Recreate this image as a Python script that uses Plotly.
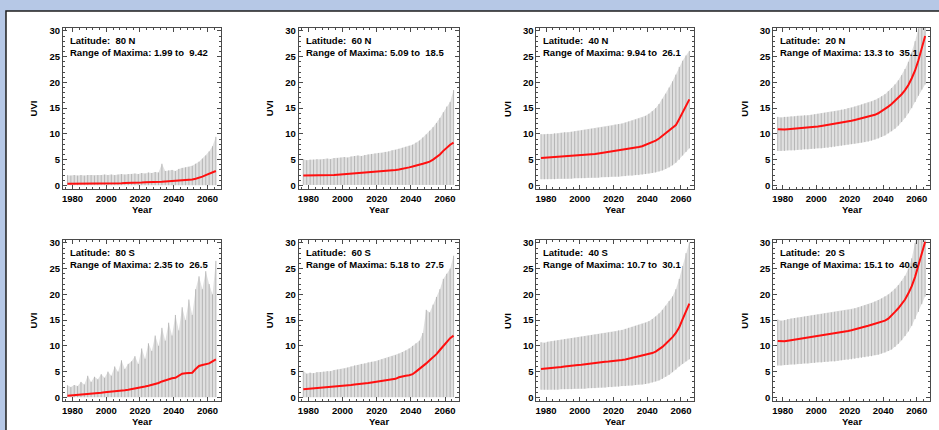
import plotly.graph_objects as go

# ---------------- data ----------------
YEARS = [1977, 1979, 1981, 1983, 1985, 1987, 1989, 1991, 1993, 1995,
         1997, 1999, 2001, 2003, 2005, 2007, 2009, 2011, 2013, 2015,
         2017, 2019, 2021, 2023, 2025, 2027, 2029, 2031, 2033, 2035,
         2037, 2039, 2041, 2043, 2045, 2047, 2049, 2051, 2053, 2055,
         2057, 2059, 2061, 2063, 2065]

LATITUDES = ["80 N", "60 N", "40 N", "20 N", "80 S", "60 S", "40 S", "20 S"]
MAX_RANGE_LO = ["1.99", "5.09", "9.94", "13.3", "2.35", "5.18", "10.7", "15.1"]
MAX_RANGE_HI = ["9.42", "18.5", "26.1", "35.1", "26.5", "27.5", "30.1", "40.6"]

# 80 N
MAX_80N = [1.99, 1.9, 2.0, 1.9, 2.0, 1.9, 2.0, 2.0, 1.9, 2.0,
           2.0, 2.1, 2.0, 2.1, 2.0, 2.1, 2.2, 2.1, 2.2, 2.2,
           2.3, 2.2, 2.4, 2.3, 2.5, 2.4, 2.6, 2.5, 4.2, 2.8,
           2.9, 3.0, 2.8, 3.2, 3.4, 3.5, 3.6, 3.8, 4.2, 4.6,
           5.2, 5.8, 6.6, 7.6, 9.42]
MIN_80N = [0.05, 0.05, 0.05, 0.05, 0.05, 0.05, 0.05, 0.05, 0.05, 0.05,
           0.05, 0.05, 0.05, 0.05, 0.05, 0.05, 0.05, 0.05, 0.05, 0.05,
           0.05, 0.05, 0.05, 0.05, 0.05, 0.05, 0.05, 0.05, 0.05, 0.05,
           0.05, 0.05, 0.05, 0.05, 0.05, 0.05, 0.05, 0.05, 0.05, 0.05,
           0.05, 0.05, 0.05, 0.05, 0.05]
MEAN_80N = [0.3, 0.3, 0.3, 0.3, 0.3, 0.3, 0.3, 0.35, 0.35, 0.35,
            0.35, 0.35, 0.4, 0.4, 0.4, 0.4, 0.4, 0.45, 0.45, 0.5,
            0.5, 0.55, 0.55, 0.6, 0.6, 0.65, 0.65, 0.7, 0.7, 0.75,
            0.8, 0.85, 0.85, 0.9, 0.95, 1.0, 1.05, 1.15, 1.3, 1.45,
            1.7, 2.0, 2.3, 2.6, 2.8]

# 60 N
MAX_60N = [5.09, 4.9, 5.0, 5.0, 5.1, 5.0, 5.1, 5.2, 5.1, 5.3,
           5.3, 5.4, 5.5, 5.4, 5.6, 5.7, 5.8, 5.7, 5.9, 6.0,
           6.1, 6.2, 6.3, 6.3, 6.5, 6.6, 6.8, 6.9, 7.1, 7.3,
           7.5, 7.7, 7.9, 8.3, 8.7, 9.3, 9.9, 10.6, 11.3, 12.1,
           13.1, 14.2, 15.3, 16.2, 18.5]
MIN_60N = [0.1, 0.1, 0.1, 0.1, 0.1, 0.1, 0.1, 0.1, 0.1, 0.1,
           0.1, 0.1, 0.1, 0.1, 0.1, 0.1, 0.1, 0.1, 0.1, 0.1,
           0.1, 0.1, 0.1, 0.1, 0.1, 0.1, 0.1, 0.1, 0.1, 0.1,
           0.1, 0.1, 0.1, 0.1, 0.1, 0.1, 0.1, 0.1, 0.1, 0.1,
           0.1, 0.1, 0.1, 0.1, 0.1]
MEAN_60N = [1.9, 1.9, 1.9, 1.9, 1.9, 1.9, 1.95, 1.95, 2.0, 2.0,
            2.05, 2.1, 2.15, 2.2, 2.25, 2.3, 2.35, 2.4, 2.45, 2.5,
            2.55, 2.6, 2.65, 2.7, 2.75, 2.8, 2.9, 3.0, 3.1, 3.2,
            3.35, 3.5, 3.65, 3.8, 4.0, 4.2, 4.4, 4.6, 5.0, 5.5,
            6.0, 6.7, 7.4, 7.9, 8.3]

# 40 N
MAX_40N = [9.94, 9.9, 10.0, 10.0, 10.1, 10.1, 10.2, 10.3, 10.3, 10.4,
           10.5, 10.6, 10.7, 10.8, 10.9, 11.0, 11.1, 11.2, 11.3, 11.4,
           11.5, 11.6, 11.8, 11.9, 12.0, 12.2, 12.4, 12.6, 12.8, 13.0,
           13.2, 13.5, 13.9, 14.4, 15.0, 15.8, 16.8, 17.8, 19.0, 20.2,
           21.5, 23.0, 24.2, 25.2, 26.1]
MIN_40N = [1.2, 1.2, 1.2, 1.2, 1.2, 1.3, 1.3, 1.3, 1.3, 1.3,
           1.4, 1.4, 1.4, 1.4, 1.5, 1.5, 1.5, 1.5, 1.6, 1.6,
           1.6, 1.7, 1.7, 1.7, 1.8, 1.8, 1.9, 1.9, 2.0, 2.0,
           2.1, 2.2, 2.3, 2.4, 2.5, 2.7, 2.9, 3.2, 3.5, 3.9,
           4.4, 5.0, 5.8, 6.5, 7.2]
MEAN_40N = [5.3, 5.35, 5.4, 5.4, 5.45, 5.5, 5.5, 5.55, 5.6, 5.65,
            5.7, 5.8, 5.85, 5.9, 6.0, 6.05, 6.1, 6.2, 6.3, 6.4,
            6.45, 6.55, 6.65, 6.75, 6.85, 7.0, 7.1, 7.2, 7.3, 7.45,
            7.6, 7.85, 8.1, 8.35, 8.7, 9.1, 9.6, 10.1, 10.6, 11.1,
            11.7, 12.9, 14.2, 15.5, 16.7]

# 20 N
MAX_20N = [13.3, 13.2, 13.3, 13.3, 13.4, 13.4, 13.5, 13.5, 13.6, 13.6,
           13.7, 13.8, 13.9, 14.0, 14.1, 14.2, 14.3, 14.4, 14.5, 14.7,
           14.8, 15.0, 15.1, 15.3, 15.5, 15.7, 15.9, 16.1, 16.3, 16.6,
           16.9, 17.3, 17.7, 18.3, 18.9, 19.6, 20.4, 21.4, 22.6, 24.0,
           25.8, 28.0, 30.5, 33.0, 35.1]
MIN_20N = [6.7, 6.7, 6.7, 6.8, 6.8, 6.8, 6.9, 6.9, 7.0, 7.0,
           7.1, 7.1, 7.2, 7.2, 7.3, 7.3, 7.4, 7.5, 7.6, 7.7,
           7.8, 7.9, 8.0, 8.1, 8.2, 8.3, 8.4, 8.5, 8.7, 8.9,
           9.1, 9.4, 9.7, 10.1, 10.5, 11.0, 11.6, 12.3, 13.1, 14.0,
           15.0, 16.2, 17.4, 18.6, 19.6]
MEAN_20N = [10.9, 10.85, 10.85, 10.9, 10.95, 11.0, 11.05, 11.1, 11.15, 11.2,
            11.3, 11.35, 11.45, 11.55, 11.65, 11.75, 11.85, 11.95, 12.05, 12.15,
            12.3, 12.4, 12.55, 12.7, 12.85, 13.0, 13.15, 13.3, 13.5, 13.7,
            14.0, 14.4, 14.8, 15.3, 15.8, 16.4, 17.0, 17.7, 18.5, 19.5,
            20.8, 22.3, 24.3, 26.7, 29.0]

# 80 S
MAX_80S = [2.35, 2.0, 2.4, 2.2, 3.0, 2.5, 4.2, 3.0, 4.0, 3.5,
           4.5, 3.8, 5.0, 4.2, 6.0, 5.0, 7.2, 5.5, 6.5, 7.0,
           8.0, 6.5, 9.5, 7.5, 10.5, 9.0, 12.0, 10.0, 13.5, 11.0,
           14.5, 12.0, 16.0, 13.0, 17.5, 15.0, 19.0, 16.0, 21.0, 23.5,
           21.0, 24.5, 22.0, 20.0, 26.5]
MIN_80S = [0.05, 0.05, 0.05, 0.05, 0.05, 0.05, 0.05, 0.05, 0.05, 0.05,
           0.05, 0.05, 0.05, 0.05, 0.05, 0.05, 0.05, 0.05, 0.05, 0.05,
           0.05, 0.05, 0.05, 0.05, 0.05, 0.05, 0.05, 0.05, 0.05, 0.05,
           0.05, 0.05, 0.05, 0.05, 0.05, 0.05, 0.05, 0.05, 0.05, 0.05,
           0.05, 0.05, 0.05, 0.05, 0.05]
MEAN_80S = [0.3, 0.35, 0.4, 0.45, 0.5, 0.55, 0.6, 0.7, 0.75, 0.85,
            0.9, 1.0, 1.05, 1.1, 1.2, 1.3, 1.35, 1.4, 1.5, 1.6,
            1.7, 1.85, 2.0, 2.1, 2.25, 2.4, 2.6, 2.8, 3.1, 3.35,
            3.5, 3.7, 3.8, 4.2, 4.6, 4.7, 4.75, 4.8, 5.5, 6.1,
            6.3, 6.4, 6.6, 7.0, 7.4]

# 60 S
MAX_60S = [5.18, 4.6, 4.8, 4.7, 4.9, 4.9, 5.0, 5.1, 5.1, 5.3,
           5.4, 5.5, 5.6, 5.8, 6.0, 6.2, 6.3, 6.5, 6.6, 6.8,
           6.9, 7.0, 7.2, 7.4, 7.6, 7.8, 8.0, 8.2, 8.5, 8.8,
           9.1, 9.5, 10.0, 10.5, 11.0, 12.5, 17.0, 16.5, 18.0, 19.5,
           21.0, 23.0, 24.0, 25.0, 27.5]
MIN_60S = [0.05, 0.05, 0.05, 0.05, 0.05, 0.05, 0.05, 0.05, 0.05, 0.05,
           0.05, 0.05, 0.05, 0.05, 0.05, 0.05, 0.05, 0.05, 0.05, 0.05,
           0.05, 0.05, 0.05, 0.05, 0.05, 0.05, 0.05, 0.05, 0.05, 0.05,
           0.05, 0.05, 0.05, 0.05, 0.05, 0.05, 0.05, 0.05, 0.05, 0.05,
           0.05, 0.05, 0.05, 0.05, 0.05]
MEAN_60S = [1.6, 1.65, 1.7, 1.75, 1.8, 1.85, 1.9, 1.95, 2.0, 2.05,
            2.1, 2.2, 2.25, 2.3, 2.4, 2.5, 2.55, 2.6, 2.7, 2.8,
            2.9, 3.0, 3.05, 3.1, 3.2, 3.3, 3.4, 3.6, 3.9, 4.1,
            4.2, 4.3, 4.5, 5.0, 5.5, 6.0, 6.6, 7.2, 7.8, 8.4,
            9.2, 10.0, 10.8, 11.5, 12.0]

# 40 S
MAX_40S = [10.7, 10.6, 10.8, 10.9, 11.0, 11.1, 11.2, 11.3, 11.4, 11.5,
           11.6, 11.7, 11.8, 11.9, 12.0, 12.1, 12.2, 12.3, 12.4, 12.5,
           12.6, 12.7, 12.8, 13.0, 13.1, 13.3, 13.5, 13.7, 13.9, 14.1,
           14.3, 14.5, 14.8, 15.2, 15.7, 16.3, 17.0, 17.8, 18.7, 19.6,
           21.0, 23.0, 25.5, 28.0, 30.1]
MIN_40S = [1.5, 1.5, 1.5, 1.5, 1.5, 1.5, 1.6, 1.6, 1.6, 1.6,
           1.7, 1.7, 1.7, 1.7, 1.8, 1.8, 1.8, 1.9, 1.9, 1.9,
           2.0, 2.0, 2.1, 2.1, 2.2, 2.2, 2.3, 2.3, 2.4, 2.5,
           2.5, 2.6, 2.7, 2.9, 3.1, 3.3, 3.6, 4.0, 4.4, 4.9,
           5.4, 6.0, 6.5, 7.0, 7.4]
MEAN_40S = [5.5, 5.55, 5.6, 5.7, 5.75, 5.85, 5.9, 6.0, 6.1, 6.2,
            6.25, 6.3, 6.35, 6.45, 6.5, 6.6, 6.65, 6.75, 6.8, 6.9,
            6.95, 7.0, 7.05, 7.15, 7.25, 7.35, 7.5, 7.6, 7.75, 7.9,
            8.05, 8.2, 8.35, 8.6, 8.9, 9.3, 9.8, 10.4, 11.0, 11.7,
            12.5, 13.6, 15.2, 16.7, 18.2]

# 20 S
MAX_20S = [15.1, 14.9, 15.0, 15.2, 15.3, 15.4, 15.5, 15.6, 15.7, 15.8,
           15.9, 16.0, 16.1, 16.2, 16.3, 16.4, 16.5, 16.6, 16.7, 16.8,
           16.9, 17.0, 17.1, 17.3, 17.5, 17.7, 17.9, 18.1, 18.3, 18.6,
           18.9, 19.2, 19.6, 20.0, 20.5, 21.1, 21.8, 22.6, 23.6, 25.0,
           27.0, 30.0, 33.5, 37.0, 40.6]
MIN_20S = [6.2, 6.2, 6.3, 6.3, 6.4, 6.4, 6.5, 6.5, 6.6, 6.6,
           6.7, 6.7, 6.8, 6.8, 6.9, 6.9, 7.0, 7.0, 7.1, 7.2,
           7.3, 7.3, 7.4, 7.5, 7.6, 7.7, 7.8, 7.9, 8.0, 8.2,
           8.3, 8.5, 8.7, 9.0, 9.3, 9.8, 10.4, 11.1, 11.9, 12.8,
           13.9, 15.2, 16.6, 18.1, 19.6]
MEAN_20S = [10.95, 10.9, 10.9, 11.0, 11.1, 11.2, 11.3, 11.4, 11.5, 11.6,
            11.7, 11.8, 11.85, 11.95, 12.05, 12.15, 12.25, 12.35, 12.45, 12.6,
            12.75, 12.9, 13.05, 13.2, 13.35, 13.5, 13.7, 13.9, 14.1, 14.3,
            14.5, 14.7, 14.9, 15.3, 15.9, 16.6, 17.3, 18.1, 19.0, 20.2,
            21.6, 23.4, 25.6, 27.8, 30.2]

MAXES = [MAX_80N, MAX_60N, MAX_40N, MAX_20N, MAX_80S, MAX_60S, MAX_40S, MAX_20S]
MINS = [MIN_80N, MIN_60N, MIN_40N, MIN_20N, MIN_80S, MIN_60S, MIN_40S, MIN_20S]
MEANS = [MEAN_80N, MEAN_60N, MEAN_40N, MEAN_20N, MEAN_80S, MEAN_60S, MEAN_40S, MEAN_20S]

X_TICKS = [1980, 2000, 2020, 2040, 2060]
Y_TICKS = [0, 5, 10, 15, 20, 25, 30]

# ---------------- layout geometry (pixels) ----------------
W, H = 939, 430
COL_L = [62, 298, 536, 773]
COL_R = [220, 458, 694, 930]
ROW_T = [25, 239]
ROW_B = [188, 402]
X_RANGE = [1974.3, 2067.9]
Y_RANGE = [-0.75, 30.6]

FONT = "Liberation Sans, Arial, Helvetica, sans-serif"
AX_COL = "#4a4a4a"

fig = go.Figure()
layout = dict(
    width=W, height=H, margin=dict(l=0, r=0, t=0, b=0),
    paper_bgcolor="#b6c8e6", plot_bgcolor="white", showlegend=False,
    font=dict(family=FONT, size=9, color="black"),
)
annotations = []
shapes = [dict(type="rect", xref="paper", yref="paper",
               x0=5 / W, x1=1.02, y0=-0.05, y1=1 - 8 / H,
               fillcolor="white", line=dict(color="#1e1e1e", width=1.5),
               layer="below")]

for i in range(8):
    r, c = divmod(i, 4)
    n = i + 1
    sfx = "" if n == 1 else str(n)
    xa, ya = "x" + sfx, "y" + sfx
    x0, x1 = COL_L[c] / W, COL_R[c] / W
    y0, y1 = 1 - ROW_B[r] / H, 1 - ROW_T[r] / H

    mx, mn, me = MAXES[i], MINS[i], MEANS[i]
    # gray band (annual range)
    fig.add_trace(go.Scatter(
        x=YEARS + YEARS[::-1], y=mx + mn[::-1], xaxis=xa, yaxis=ya,
        fill="toself", fillcolor="#e0e0e0", line=dict(width=0),
        mode="lines", hoverinfo="skip"))
    # vertical stripes from min to max
    vx, vy = [], []
    for yr, lo, hi in zip(YEARS, mn, mx):
        vx += [yr, yr, None]
        vy += [lo, hi, None]
    fig.add_trace(go.Scatter(
        x=vx, y=vy, xaxis=xa, yaxis=ya, mode="lines",
        line=dict(color="#b0b0b0", width=0.9), hoverinfo="skip"))
    # red mean
    fig.add_trace(go.Scatter(
        x=YEARS, y=me, xaxis=xa, yaxis=ya, mode="lines",
        line=dict(color="#ff1010", width=2)))

    common = dict(showline=True, linecolor=AX_COL, linewidth=1, mirror="allticks",
                  ticks="inside", ticklen=4, tickwidth=1, tickcolor=AX_COL,
                  showgrid=False, zeroline=False,
                  tickfont=dict(family=FONT, size=9.5, color="black", weight="bold"))
    layout["xaxis" + sfx] = dict(
        domain=[x0, x1], anchor=ya, range=X_RANGE, tickvals=X_TICKS,
        minor=dict(ticks="inside", ticklen=2, dtick=4, tick0=1980,
                   tickcolor=AX_COL, showgrid=False),
        **common)
    layout["yaxis" + sfx] = dict(
        domain=[y0, y1], anchor=xa, range=Y_RANGE, tickvals=Y_TICKS,
        minor=dict(ticks="inside", ticklen=2, dtick=1, tick0=0,
                   tickcolor=AX_COL, showgrid=False),
        **common)

    # text labels
    annotations.append(dict(
        xref="paper", yref="paper", x=(COL_L[c] + 5) / W, y=1 - (ROW_T[r] + 13) / H,
        xanchor="left", yanchor="middle", showarrow=False,
        text="Latitude:\u00a0 " + LATITUDES[i],
        font=dict(family=FONT, size=9.5, weight="bold")))
    annotations.append(dict(
        xref="paper", yref="paper", x=(COL_L[c] + 5) / W, y=1 - (ROW_T[r] + 25) / H,
        xanchor="left", yanchor="middle", showarrow=False,
        text="Range of Maxima: " + MAX_RANGE_LO[i] + " to\u00a0 " + MAX_RANGE_HI[i],
        font=dict(family=FONT, size=9.5, weight="bold")))
    annotations.append(dict(
        xref="paper", yref="paper", x=(COL_L[c] + COL_R[c]) / 2 / W,
        y=1 - (ROW_B[r] + 20) / H, xanchor="center", yanchor="middle",
        showarrow=False, text="Year",
        font=dict(family=FONT, size=9.5, weight="bold")))
    annotations.append(dict(
        xref="paper", yref="paper", x=(COL_L[c] - 29) / W,
        y=1 - (ROW_T[r] + ROW_B[r]) / 2 / H, xanchor="center", yanchor="middle",
        textangle=-90, showarrow=False, text="UVI",
        font=dict(family=FONT, size=9.5, weight="bold")))

layout["annotations"] = annotations
layout["shapes"] = shapes
fig.update_layout(**layout)
fig.write_html("out.html",
               config={"displayModeBar": False},
               post_script="document.body.style.margin='0px';"
                           "document.body.style.overflow='hidden';")
